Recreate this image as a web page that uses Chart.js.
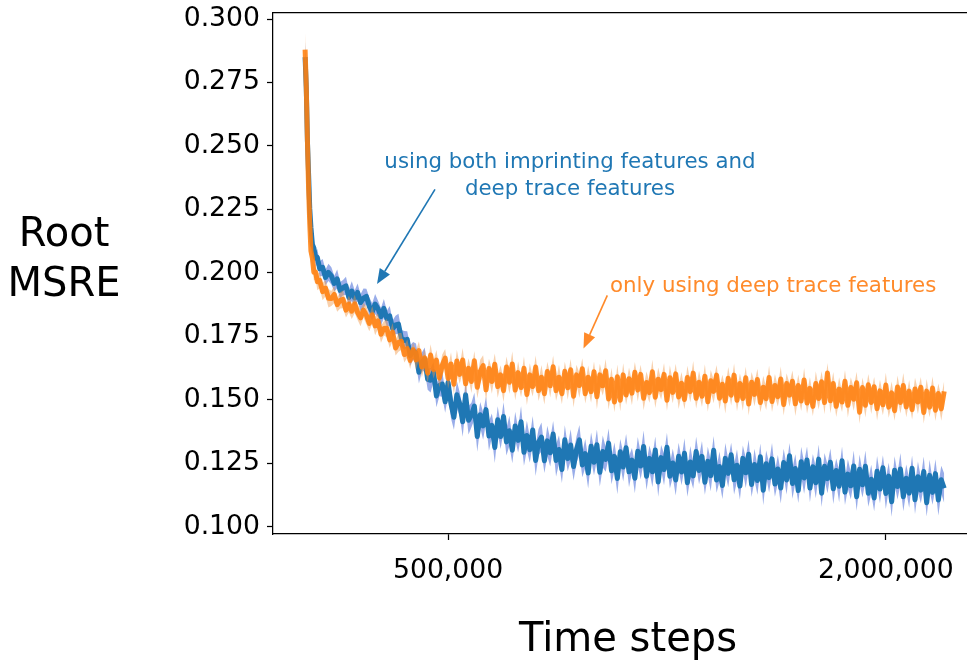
<!DOCTYPE html>
<html><head><meta charset="utf-8">
<script src="https://cdn.jsdelivr.net/npm/chart.js@4.4.1/dist/chart.umd.min.js"></script>
<style>
html,body{margin:0;padding:0;overflow:hidden;background:#fff;width:967px;height:660px}
#wrap{position:absolute;left:0;top:0;width:990px;height:660px}
canvas{display:block}
</style></head><body>
<div id="wrap"><canvas id="c" width="990" height="660" style="width:990px;height:660px"></canvas></div>
<script>
// ---- data (time steps in thousands) ----
const stepsK = [10,14,18,22,26,30,35,40,46,52,60,70,80,90,
100,110,120,130,140,150,160,170,180,190,200,210,220,230,240,250,260,270,280,290,
300,310,320,330,340,350,360,370,380,390,400,410,420,430,440,450,460,470,480,490,
500,510,520,530,540,550,560,570,580,590,600,610,620,630,640,650,660,670,680,690,
700,710,720,730,740,750,760,770,780,790,800,810,820,830,840,850,860,870,880,890,
900,910,920,930,940,950,960,970,980,990,1000,1010,1020,1030,1040,1050,1060,1070,1080,1090,
1100,1110,1120,1130,1140,1150,1160,1170,1180,1190,1200,1210,1220,1230,1240,1250,1260,1270,1280,1290,
1300,1310,1320,1330,1340,1350,1360,1370,1380,1390,1400,1410,1420,1430,1440,1450,1460,1470,1480,1490,
1500,1510,1520,1530,1540,1550,1560,1570,1580,1590,1600,1610,1620,1630,1640,1650,1660,1670,1680,1690,
1700,1710,1720,1730,1740,1750,1760,1770,1780,1790,1800,1810,1820,1830,1840,1850,1860,1870,1880,1890,
1900,1910,1920,1930,1940,1950,1960,1970,1980,1990,2000,2010,2020,2030,2040,2050,2060,2070,2080,2090,
2100,2110,2120,2130,2140,2150,2160,2170,2180,2190,2200];

const blueMean = [0.2850,0.2729,0.2519,0.2388,0.2252,0.2179,0.2112,0.2098,0.2058,0.2061,0.2016,0.2022,0.1982,0.2002,
0.1988,0.1958,0.1976,0.1931,0.1942,0.1949,0.1903,0.1928,0.1901,0.1923,
0.1883,0.1900,0.1907,0.1868,0.1846,0.1877,0.1858,0.1827,0.1860,0.1820,
0.1830,0.1780,0.1795,0.1798,0.1741,0.1734,0.1738,0.1674,0.1693,0.1684,
0.1608,0.1648,0.1660,0.1580,0.1577,0.1610,0.1515,0.1556,0.1562,0.1492,
0.1568,0.1483,0.1431,0.1520,0.1483,0.1413,0.1520,0.1419,0.1440,0.1475,
0.1355,0.1441,0.1397,0.1461,0.1357,0.1399,0.1312,0.1421,0.1355,0.1434,
0.1334,0.1378,0.1301,0.1397,0.1340,0.1413,0.1293,0.1359,0.1303,0.1381,
0.1261,0.1333,0.1353,0.1260,0.1338,0.1291,0.1365,0.1261,0.1304,0.1225,
0.1342,0.1268,0.1322,0.1237,0.1303,0.1342,0.1243,0.1288,0.1211,0.1317,
0.1254,0.1323,0.1214,0.1296,0.1265,0.1329,0.1220,0.1277,0.1190,0.1295,
0.1235,0.1311,0.1216,0.1262,0.1191,0.1297,0.1239,0.1316,0.1199,0.1269,
0.1216,0.1302,0.1176,0.1272,0.1225,0.1313,0.1199,0.1251,0.1184,0.1277,
0.1215,0.1289,0.1173,0.1255,0.1200,0.1296,0.1221,0.1277,0.1175,0.1258,
0.1201,0.1301,0.1184,0.1237,0.1162,0.1269,0.1210,0.1283,0.1185,0.1242,
0.1160,0.1269,0.1212,0.1285,0.1166,0.1245,0.1182,0.1275,0.1143,0.1248,
0.1193,0.1267,0.1168,0.1227,0.1152,0.1253,0.1184,0.1279,0.1170,0.1229,
0.1142,0.1256,0.1192,0.1263,0.1152,0.1236,0.1173,0.1266,0.1132,0.1238,
0.1189,0.1254,0.1149,0.1221,0.1159,0.1260,0.1136,0.1207,0.1161,0.1239,
0.1118,0.1226,0.1165,0.1238,0.1132,0.1187,0.1113,0.1218,0.1148,0.1232,
0.1131,0.1199,0.1098,0.1222,0.1158,0.1227,0.1118,0.1191,0.1132,0.1230,
0.1106,0.1197,0.1144,0.1217,0.1094,0.1202,0.1135,0.1209,0.1105,0.1185,
0.1151];

const blueStd = [0.0060,0.0052,0.0045,0.0040,0.0036,0.0033,0.0030,0.0031,0.0029,0.0032,0.0030,0.0033,0.0031,0.0034,
0.0034,0.0031,0.0037,0.0033,0.0030,0.0036,0.0032,0.0039,0.0031,0.0035,
0.0033,0.0038,0.0030,0.0036,0.0034,0.0040,0.0032,0.0035,0.0037,0.0031,
0.0039,0.0033,0.0036,0.0041,0.0034,0.0037,0.0032,0.0040,0.0035,0.0038,
0.0044,0.0038,0.0046,0.0041,0.0048,0.0039,0.0045,0.0042,0.0050,0.0043,
0.0052,0.0057,0.0049,0.0054,0.0046,0.0059,0.0051,0.0056,0.0048,0.0053,
0.0060,0.0050,0.0055,0.0052,0.0058,0.0047,0.0061,0.0053,0.0049,0.0057,
0.0054,0.0059,0.0051,0.0056,0.0048,0.0062,0.0053,0.0058,0.0050,0.0055,
0.0061,0.0052,0.0057,0.0049,0.0060,0.0054,0.0051,0.0063,0.0056,0.0053,
0.0058,0.0050,0.0062,0.0055,0.0052,0.0059,0.0048,0.0057,0.0061,0.0054,
0.0051,0.0060,0.0056,0.0063,0.0049,0.0058,0.0053,0.0055,0.0062,0.0050,
0.0057,0.0054,0.0061,0.0048,0.0059,0.0056,0.0052,0.0063,0.0055,0.0051,
0.0060,0.0053,0.0058,0.0050,0.0062,0.0057,0.0049,0.0056,0.0061,0.0054,
0.0052,0.0059,0.0055,0.0063,0.0051,0.0058,0.0054,0.0060,0.0049,0.0057,
0.0062,0.0056,0.0050,0.0059,0.0053,0.0061,0.0055,0.0048,0.0058,0.0063,
0.0054,0.0051,0.0060,0.0057,0.0049,0.0062,0.0056,0.0053,0.0059,0.0052,
0.0058,0.0063,0.0050,0.0055,0.0061,0.0054,0.0057,0.0051,0.0060,0.0056,
0.0049,0.0059,0.0062,0.0053,0.0056,0.0050,0.0061,0.0058,0.0055,0.0052,
0.0057,0.0054,0.0060,0.0048,0.0063,0.0056,0.0051,0.0059,0.0053,0.0061,
0.0055,0.0058,0.0050,0.0062,0.0054,0.0057,0.0052,0.0060,0.0056,0.0049,
0.0061,0.0053,0.0059,0.0055,0.0051,0.0063,0.0057,0.0054,0.0058,0.0050,
0.0056,0.0060,0.0052,0.0059,0.0054,0.0062,0.0049,0.0057,0.0061,0.0055,
0.0058];

const orangeMean = [0.2880,0.2734,0.2519,0.2331,0.2193,0.2086,0.2058,0.2002,0.2003,0.1965,0.1970,0.1926,0.1940,0.1900,
0.1899,0.1915,0.1875,0.1892,0.1896,0.1853,0.1877,0.1849,0.1878,0.1844,
0.1823,0.1853,0.1833,0.1801,0.1835,0.1791,0.1811,0.1758,0.1781,0.1782,
0.1736,0.1767,0.1704,0.1726,0.1730,0.1678,0.1702,0.1655,0.1697,0.1657,
0.1694,0.1629,0.1665,0.1605,0.1676,0.1619,0.1656,0.1586,0.1636,0.1664,
0.1584,0.1641,0.1561,0.1653,0.1600,0.1657,0.1563,0.1624,0.1572,0.1654,
0.1549,0.1611,0.1635,0.1539,0.1623,0.1572,0.1640,0.1552,0.1598,0.1536,
0.1629,0.1569,0.1641,0.1538,0.1607,0.1548,0.1624,0.1521,0.1598,0.1552,
0.1629,0.1536,0.1589,0.1524,0.1611,0.1555,0.1630,0.1536,0.1589,0.1524,
0.1612,0.1547,0.1618,0.1514,0.1598,0.1556,0.1622,0.1524,0.1589,0.1532,
0.1610,0.1512,0.1598,0.1555,0.1614,0.1503,0.1581,0.1491,0.1591,0.1498,
0.1598,0.1519,0.1583,0.1526,0.1608,0.1538,0.1600,0.1506,0.1568,0.1528,
0.1610,0.1510,0.1581,0.1540,0.1600,0.1498,0.1587,0.1529,0.1602,0.1511,
0.1565,0.1501,0.1588,0.1532,0.1605,0.1506,0.1569,0.1514,0.1593,0.1492,
0.1575,0.1533,0.1597,0.1506,0.1561,0.1495,0.1585,0.1518,0.1597,0.1498,
0.1564,0.1505,0.1587,0.1483,0.1569,0.1521,0.1580,0.1489,0.1549,0.1504,
0.1588,0.1493,0.1556,0.1512,0.1582,0.1481,0.1564,0.1518,0.1573,0.1484,
0.1556,0.1495,0.1578,0.1487,0.1545,0.1474,0.1564,0.1505,0.1571,0.1489,
0.1605,0.1496,0.1564,0.1474,0.1542,0.1491,0.1573,0.1478,0.1548,0.1502,
0.1567,0.1451,0.1548,0.1478,0.1559,0.1489,0.1551,0.1465,0.1535,0.1480,
0.1558,0.1471,0.1527,0.1457,0.1550,0.1489,0.1556,0.1472,0.1534,0.1461,
0.1542,0.1491,0.1549,0.1450,0.1534,0.1471,0.1546,0.1459,0.1525,0.1464,
0.1533];

const orangeStd = [0.0065,0.0055,0.0046,0.0040,0.0035,0.0032,0.0030,0.0032,0.0029,0.0033,0.0031,0.0034,0.0032,0.0036,
0.0030,0.0034,0.0028,0.0032,0.0035,0.0029,0.0033,0.0031,0.0036,0.0030,
0.0033,0.0029,0.0035,0.0031,0.0034,0.0037,0.0030,0.0033,0.0028,0.0036,
0.0032,0.0035,0.0030,0.0037,0.0033,0.0031,0.0036,0.0034,0.0029,0.0038,
0.0036,0.0041,0.0034,0.0038,0.0043,0.0035,0.0040,0.0037,0.0042,0.0036,
0.0041,0.0046,0.0039,0.0044,0.0037,0.0047,0.0042,0.0040,0.0045,0.0038,
0.0043,0.0047,0.0040,0.0045,0.0039,0.0048,0.0042,0.0044,0.0038,0.0046,
0.0041,0.0045,0.0049,0.0040,0.0044,0.0038,0.0047,0.0042,0.0046,0.0039,
0.0045,0.0041,0.0048,0.0043,0.0039,0.0046,0.0044,0.0040,0.0049,0.0042,
0.0038,0.0047,0.0043,0.0045,0.0040,0.0048,0.0042,0.0039,0.0046,0.0044,
0.0041,0.0049,0.0044,0.0038,0.0047,0.0042,0.0045,0.0040,0.0048,0.0043,
0.0046,0.0039,0.0044,0.0048,0.0041,0.0045,0.0038,0.0047,0.0043,0.0040,
0.0048,0.0042,0.0046,0.0039,0.0045,0.0041,0.0049,0.0043,0.0040,0.0047,
0.0044,0.0038,0.0046,0.0042,0.0048,0.0040,0.0045,0.0043,0.0047,0.0039,
0.0042,0.0047,0.0040,0.0045,0.0038,0.0049,0.0044,0.0041,0.0046,0.0043,
0.0039,0.0048,0.0043,0.0045,0.0040,0.0047,0.0042,0.0038,0.0046,0.0044,
0.0047,0.0041,0.0045,0.0039,0.0049,0.0043,0.0040,0.0046,0.0042,0.0048,
0.0044,0.0039,0.0047,0.0042,0.0045,0.0038,0.0048,0.0043,0.0041,0.0046,
0.0040,0.0049,0.0045,0.0042,0.0047,0.0039,0.0044,0.0048,0.0041,0.0045,
0.0043,0.0046,0.0040,0.0048,0.0042,0.0045,0.0039,0.0047,0.0044,0.0041,
0.0048,0.0042,0.0045,0.0040,0.0046,0.0043,0.0049,0.0041,0.0044,0.0039,
0.0045,0.0047,0.0041,0.0044,0.0048,0.0040,0.0046,0.0043,0.0039,0.0047,
0.0042];

const yTicks = [0.100,0.125,0.150,0.175,0.200,0.225,0.250,0.275,0.300];
const xTicks = [500000,2000000];
const yTitle = ['Root','MSRE'];
const xTitle = 'Time steps';
const blueNote = ['using both imprinting features and','deep trace features'];
const orangeNote = 'only using deep trace features';

[blueMean, blueStd, orangeMean, orangeStd].forEach((a, i) => {
  if (a.length !== stepsK.length) throw new Error('length mismatch ' + i + ': ' + a.length + ' vs ' + stepsK.length);
});

// ---- layout / style ----
const FONT = "'DejaVu Sans', 'Liberation Sans', sans-serif";
const C = {
  blue: '#1f77b4', blueBand: 'rgba(70,105,215,0.55)',
  orange: 'rgba(255,127,14,0.88)', orangeBand: 'rgba(240,150,70,0.45)',
  blueText: '#1f77b4', orangeText: '#ff8a2a'
};
const notes = [
  {lines: blueNote, x: 917700, y: [0.2413, 0.2307], align: 'center', color: C.blueText,
   arrow: {x0: 455100, y0: 0.2329, x1: 256400, y1: 0.1956}},
  {lines: [orangeNote], x: 1054800, y: [0.19246], align: 'left', color: C.orangeText,
   arrow: {x0: 1045600, y0: 0.19113, x1: 964000, y1: 0.1702}}
];

const pts = arr => arr.map((v, i) => ({x: stepsK[i] * 1000, y: v}));
const band = (m, s, sign) => m.map((v, i) => ({x: stepsK[i] * 1000, y: v + sign * s[i]}));

function lineDs(data, color, order) {
  return {data, borderColor: color, borderWidth: 5, pointRadius: 0, tension: 0,
    borderJoinStyle: 'round', borderCapStyle: 'butt', fill: false, order};
}
function bandDs(data, color, order, fill) {
  return {data, borderWidth: 0, borderColor: 'rgba(0,0,0,0)', backgroundColor: color,
    pointRadius: 0, tension: 0, fill, order};
}

function drawArrow(ctx, x0, y0, x1, y1, color) {
  const ang = Math.atan2(y1 - y0, x1 - x0);
  const L = 15, W = 6;
  const bx = x1 - L * Math.cos(ang), by = y1 - L * Math.sin(ang);
  ctx.strokeStyle = color; ctx.lineWidth = 1.6;
  ctx.beginPath(); ctx.moveTo(x0, y0); ctx.lineTo(bx, by); ctx.stroke();
  ctx.fillStyle = color;
  ctx.beginPath(); ctx.moveTo(x1, y1);
  ctx.lineTo(bx + W * Math.sin(ang), by - W * Math.cos(ang));
  ctx.lineTo(bx - W * Math.sin(ang), by + W * Math.cos(ang));
  ctx.closePath(); ctx.fill();
}

const deco = {
  id: 'deco',
  afterDraw(chart) {
    const {ctx, chartArea: a, scales: {x, y}} = chart;
    ctx.save();
    ctx.strokeStyle = '#000'; ctx.lineWidth = 1.25;
    ctx.beginPath(); ctx.moveTo(a.left, a.top); ctx.lineTo(a.right, a.top); ctx.stroke();
    ctx.fillStyle = '#000';
    ctx.font = '40px ' + FONT;
    ctx.textAlign = 'center'; ctx.textBaseline = 'alphabetic';
    ctx.fillText(yTitle[0], 64, 246);
    ctx.fillText(yTitle[1], 64, 296);
    ctx.fillText(xTitle, 628, 651);
    ctx.font = '21.33px ' + FONT;
    notes.forEach(n => {
      ctx.fillStyle = n.color;
      ctx.textAlign = n.align;
      n.lines.forEach((t, i) => ctx.fillText(t, x.getPixelForValue(n.x), y.getPixelForValue(n.y[i])));
      const ar = n.arrow;
      drawArrow(ctx, x.getPixelForValue(ar.x0), y.getPixelForValue(ar.y0),
        x.getPixelForValue(ar.x1), y.getPixelForValue(ar.y1), n.color);
    });
    ctx.restore();
  }
};

Chart.defaults.font.family = FONT;
new Chart(document.getElementById('c'), {
  type: 'line',
  data: {
    datasets: [
      lineDs(pts(orangeMean), C.orange, 0),
      bandDs(band(orangeMean, orangeStd, 1), C.orangeBand, 1, '+1'),
      bandDs(band(orangeMean, orangeStd, -1), 'rgba(0,0,0,0)', 1, false),
      lineDs(pts(blueMean), C.blue, 2),
      bandDs(band(blueMean, blueStd, 1), C.blueBand, 3, '+1'),
      bandDs(band(blueMean, blueStd, -1), 'rgba(0,0,0,0)', 3, false)
    ]
  },
  options: {
    responsive: false, animation: false, devicePixelRatio: 1, events: [],
    layout: {padding: {left: 0, top: 12.5, right: 7, bottom: 0}},
    plugins: {legend: {display: false}, tooltip: {enabled: false}, title: {display: false}},
    scales: {
      x: {
        type: 'linear', min: -100000, max: 2333000,
        afterBuildTicks: s => { s.ticks = xTicks.map(v => ({value: v})); },
        afterFit: s => { s.height = 126; s.paddingLeft = 0; s.paddingRight = 0; },
        ticks: {callback: v => Number(v).toLocaleString('en-US'), color: '#000', padding: 15,
          maxRotation: 0, autoSkip: false, font: {size: 26.67, lineHeight: 1.2}},
        grid: {drawOnChartArea: false, drawTicks: true, tickLength: 6, color: '#000', tickWidth: 1.25},
        border: {display: true, color: '#000', width: 1.25}
      },
      y: {
        type: 'linear', min: 0.0971, max: 0.3026,
        afterBuildTicks: s => { s.ticks = yTicks.map(v => ({value: v})); },
        afterFit: s => { s.width = 273; s.paddingTop = 0; s.paddingBottom = 0; },
        ticks: {callback: v => Number(v).toFixed(3), color: '#000', padding: 7,
          autoSkip: false, font: {size: 26.67, lineHeight: 1.2}},
        grid: {drawOnChartArea: false, drawTicks: true, tickLength: 6, color: '#000', tickWidth: 1.25},
        border: {display: true, color: '#000', width: 1.25}
      }
    }
  },
  plugins: [deco]
});
</script>
</body></html>
